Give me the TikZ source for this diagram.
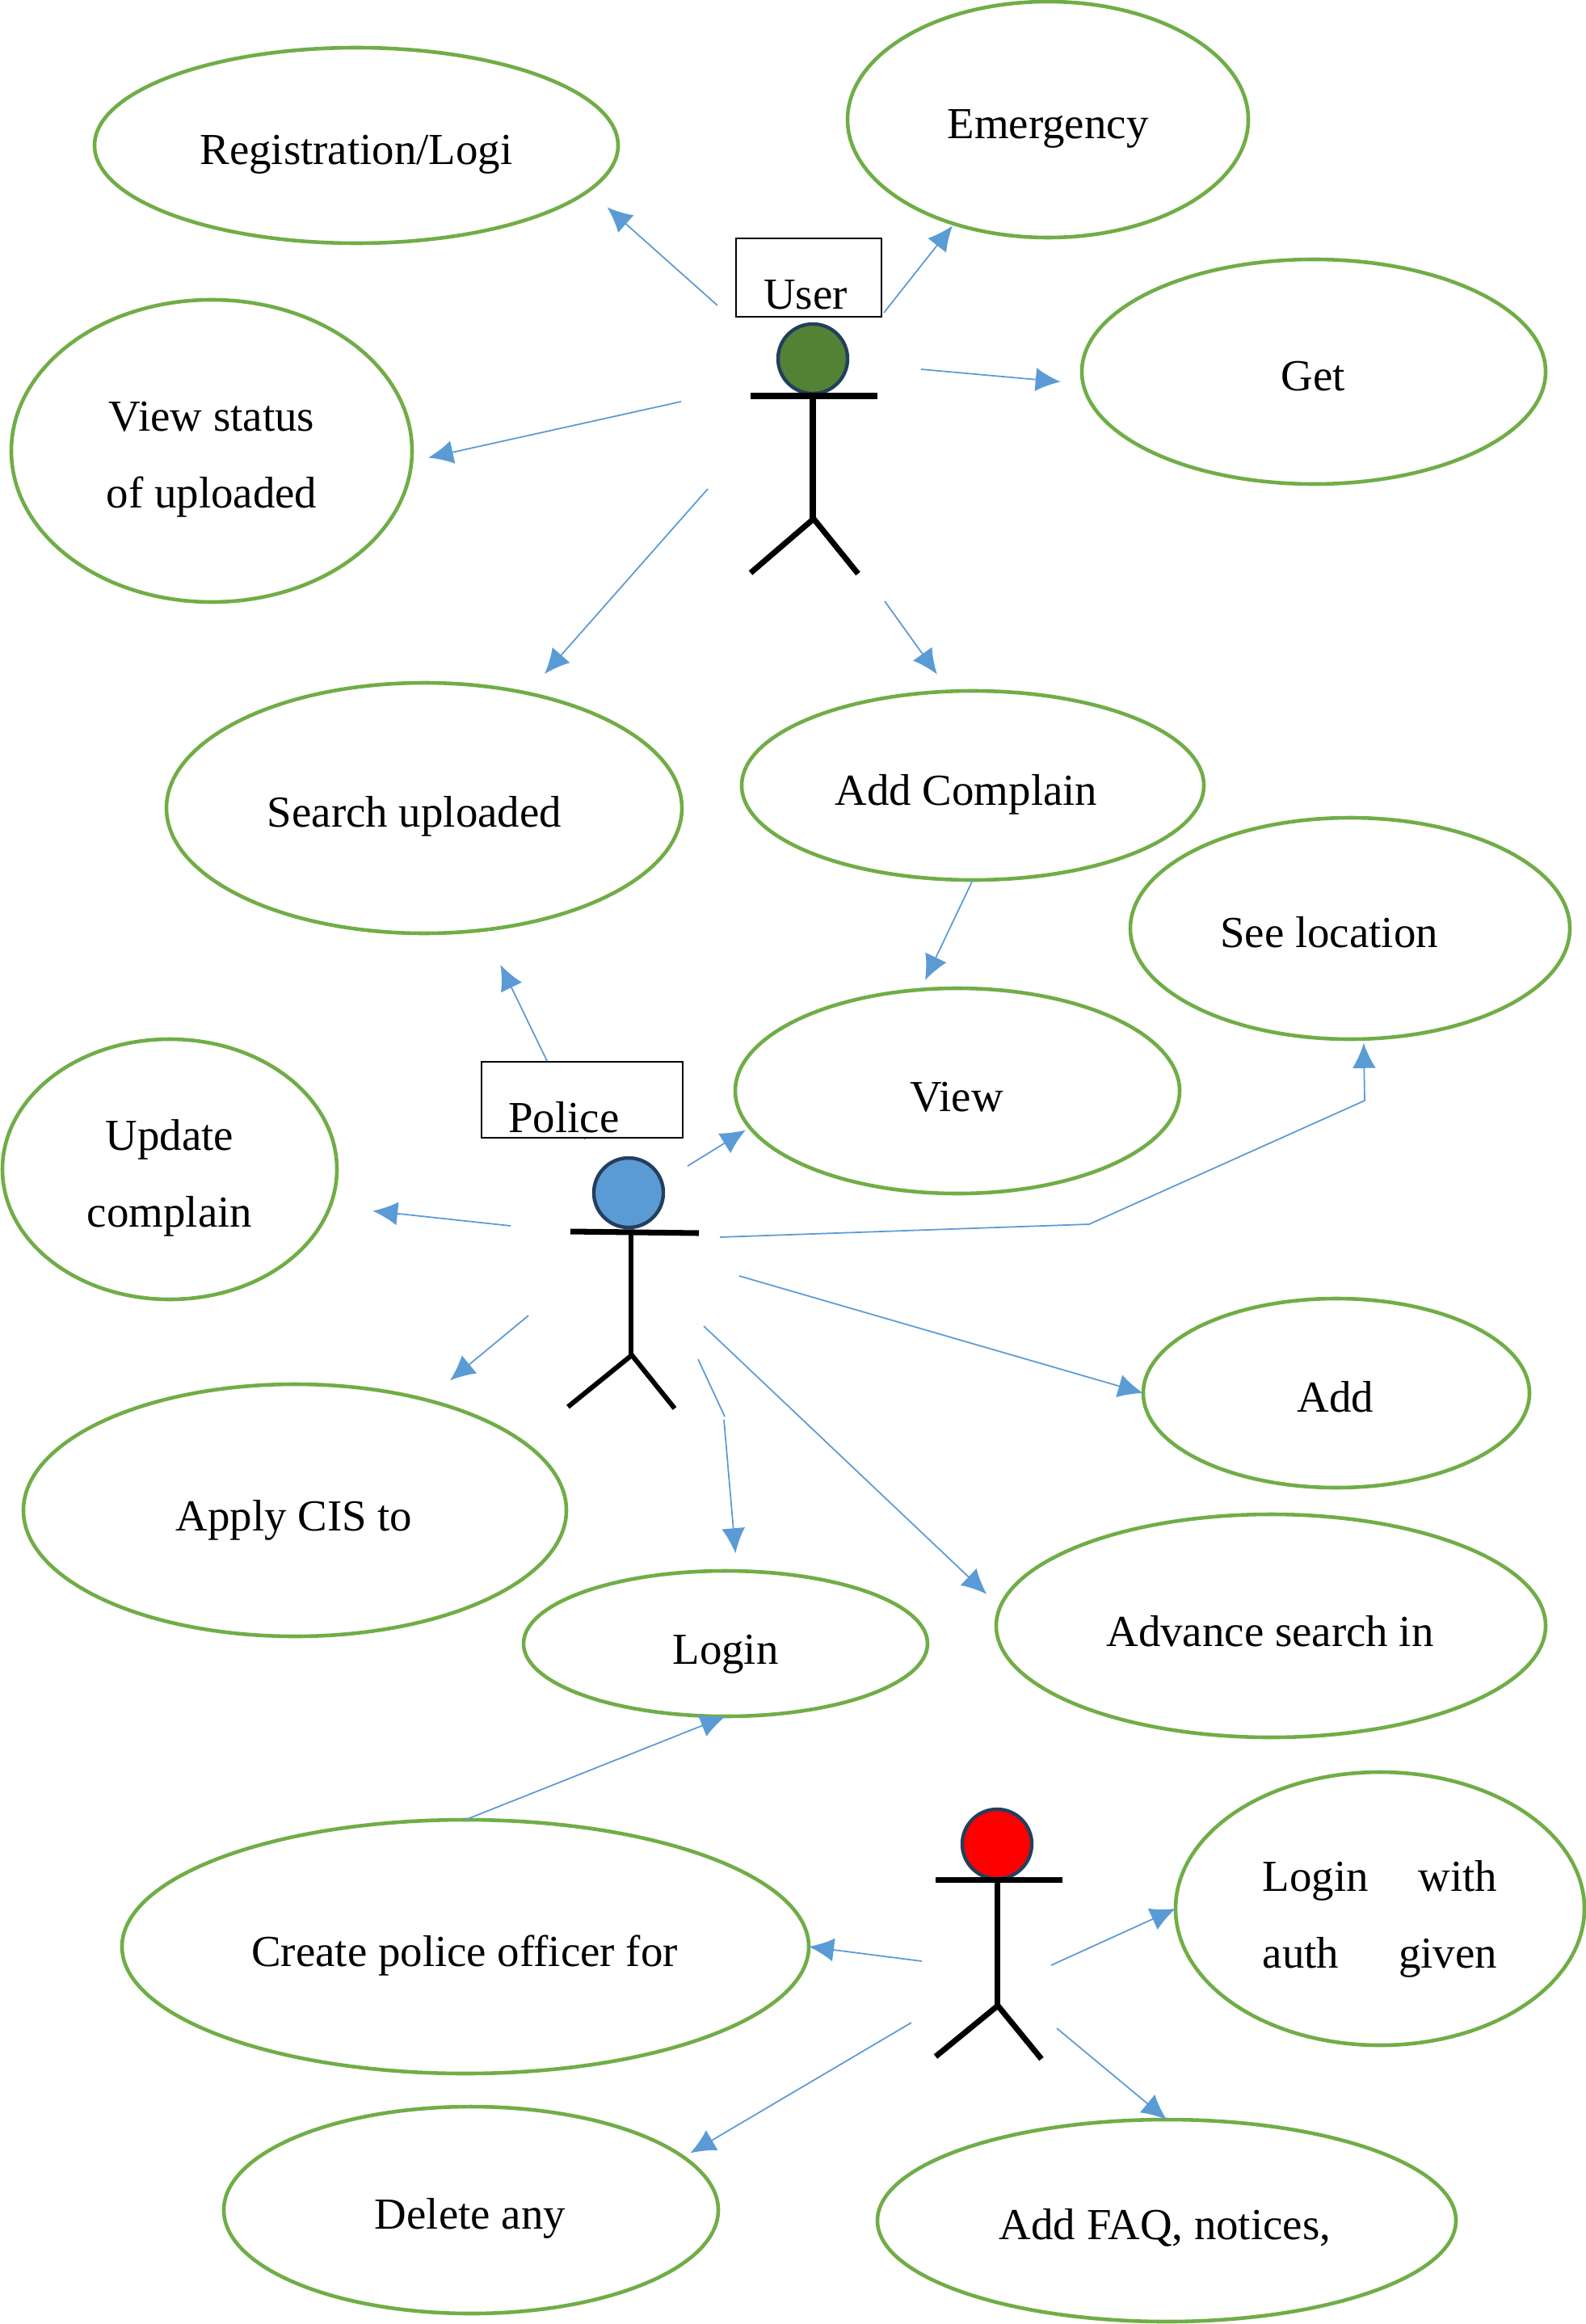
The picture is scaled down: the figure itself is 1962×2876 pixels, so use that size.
\documentclass[tikz,border=0pt]{standalone}
\usepackage{xcolor}
\usepackage{fontspec}
\setmainfont{Liberation Serif}
\usepackage{tikz}
\usetikzlibrary{shapes.geometric, arrows.meta}
\usetikzlibrary{calc,positioning}

\definecolor{caseGreen}{HTML}{70AD47}
\definecolor{flowBlue}{HTML}{5B9BD5}
\definecolor{headEdge}{HTML}{233F5E}
\definecolor{userGreen}{HTML}{548235}

\tikzset{
    usecase/.style 2 args={ellipse, draw=caseGreen, line width=1.3pt, inner sep=0pt, outer sep=0pt,
        minimum width=#1*0.01cm, minimum height=#2*0.01cm},
    caption/.style={font=\fontsize{15.6}{27}\selectfont, anchor=base, inner sep=0pt, align=center},
    flow/.style={draw=flowBlue, line width=0.5pt, -{Latex[length=0.31cm,width=0.29cm]}},
    plainflow/.style={draw=flowBlue, line width=0.5pt},
    gap/.style={shorten >=#1*0.01cm},
    namebox/.style={rectangle, draw=black, fill=white, line width=0.8pt, inner sep=0pt},
    actorhead/.style={circle, draw=headEdge, line width=1.25pt, inner sep=0pt, minimum size=0.86cm},
    stick/.style={draw=black, line width=2pt},
}

\begin{document}
\begin{tikzpicture}[x=0.01cm,y=-0.01cm]

    \useasboundingbox (0,0) rectangle (1962,2876);

    % Use cases
    \node[usecase={648}{242}] (reg) at (441,180) {};
    \node[usecase={496}{292}] (emergency) at (1297,148) {};
    \node[usecase={574}{278}] (get) at (1626,460) {};
    \node[usecase={496}{374}] (status) at (262,558) {};
    \node[usecase={638}{310}] (search) at (525,1000) {};
    \node[usecase={572}{234}] (complain) at (1204,972) {};
    \node[usecase={544}{274}] (location) at (1671,1149) {};
    \node[usecase={550}{254}] (view) at (1185,1350) {};
    \node[usecase={414}{322}] (update) at (210,1447) {};
    \node[usecase={478}{234}] (add) at (1654,1724) {};
    \node[usecase={672}{312}] (apply) at (365,1869) {};
    \node[usecase={500}{180}] (login) at (898,2034) {};
    \node[usecase={680}{276}] (advance) at (1573,2012) {};
    \node[usecase={850}{314}] (create) at (576,2409) {};
    \node[usecase={506}{338}] (auth) at (1708,2362) {};
    \node[usecase={612}{256}] (delete) at (583,2735) {};
    \node[usecase={716}{250}] (faq) at (1444,2748) {};

    % Texts
    \node[caption] (regText) at (441,204) {Registration/Logi};
    \node[caption] (emergencyText) at (1297,172) {Emergency};
    \node[caption] (getText) at (1625,484) {Get};
    \node[caption, anchor=center] (statusText) at (262,569) {View status\\of uploaded};
    \node[caption] (searchText) at (513,1023) {Search uploaded};
    \node[caption] (complainText) at (1196,996) {Add Complain};
    \node[caption] (locationText) at (1645,1172) {See location};
    \node[caption] (viewText) at (1184,1375) {View};
    \node[caption, anchor=center] (updateText) at (210,1458) {Update\\complain};
    \node[caption] (addText) at (1653,1747) {Add};
    \node[caption] (applyText) at (364,1894) {Apply CIS to};
    \node[caption] (loginText) at (898,2059) {Login};
    \node[caption] (advanceText) at (1572,2037) {Advance search in};
    \node[caption] (createText) at (575,2433) {Create police officer for};
    \node[caption, anchor=center] (authText) at (1708,2375) {\makebox[2.90cm][s]{Login\hfill with}\\\makebox[2.90cm][s]{auth\hfill given}};
    \node[caption] (deleteText) at (582,2758) {Delete any};
    \node[caption] (faqText) at (1442,2771) {Add FAQ, notices,};

    % Free ends near the actors
    \coordinate (userReg) at (888,378);
    \coordinate (userEmergency) at (1094,387);
    \coordinate (userGet) at (1140,457);
    \coordinate (userStatus) at (843,497);
    \coordinate (userSearch) at (876,605);
    \coordinate (userComplain) at (1095,744);
    \coordinate (policeSearch) at (724,1410);
    \coordinate (policeView) at (851,1443);
    \coordinate (policeLocation) at (891,1531);
    \coordinate (bendA) at (1348,1515);
    \coordinate (bendB) at (1689,1362);
    \coordinate (policeUpdate) at (632,1517);
    \coordinate (policeApply) at (654,1628);
    \coordinate (policeAdd) at (915,1579);
    \coordinate (policeAdvance) at (871,1641);
    \coordinate (policeLogin) at (864,1682);
    \coordinate (breakA) at (897,1753);
    \coordinate (breakB) at (896,1757);
    \coordinate (adminCreate) at (1141,2427);
    \coordinate (adminAuth) at (1301,2432);
    \coordinate (adminDelete) at (1128,2503);
    \coordinate (adminFaq) at (1308,2510);

    % Connectors
    \draw[flow, gap=31] (userReg) -- (reg.-11.3);
    \draw[flow, gap=3] (userEmergency) -- (emergency.228.7);
    \draw[flow, gap=28] (userGet) -- (get.183.5);
    \draw[flow, gap=21] (userStatus) -- (status.-3.5);
    \draw[flow, gap=32] (userSearch) -- (search.48);
    \draw[flow, gap=26] (userComplain) -- (complain.104);
    \draw[flow, gap=13] (complain.south) -- (view.110);
    \draw[flow, gap=48] (policeSearch) -- (search.-64.2);
    \draw[flow, gap=6] (policeView) -- (view.190.2);
    \draw[flow, gap=5] (policeLocation) -- (bendA) -- (bendB) -- (location.-83.7);
    \draw[flow, gap=53] (policeUpdate) -- (update.-13.6);
    \draw[flow, gap=38] (policeApply) -- (apply.40.4);
    \draw[flow] (policeAdd) -- (add.west);
    \draw[flow, gap=23] (policeAdvance) -- (advance.176.6);
    \draw[plainflow] (policeLogin) -- (breakA);
    \draw[flow, gap=22] (breakB) -- (login.81.8);
    \draw[flow] (create.north) -- (login.south);
    \draw[flow] (adminCreate) -- (create.east);
    \draw[flow] (adminAuth) -- (auth.west);
    \draw[flow, gap=10] (adminDelete) -- (delete.14.4);
    \draw[flow] (adminFaq) -- (faq.north);

    % User
    \node[namebox, minimum width=1.80cm, minimum height=0.97cm] (userBox) at (1001,343.5) {};
    \node[caption] (userText) at (997,383) {User};
    \node[actorhead, fill=userGreen] (userHead) at (1006,444) {};
    \draw[stick] (929,490) -- (1086,490);
    \draw[stick] (1006,490) -- (1006,642);
    \draw[stick] (929,709) -- (1007,642) -- (1062,710);

    % Police
    \node[namebox, minimum width=2.49cm, minimum height=0.94cm] (policeBox) at (720.5,1361) {};
    \node[caption] (policeText) at (698,1401) {Police};
    \node[actorhead, fill=flowBlue] (policeHead) at (778,1476) {};
    \draw[stick] (706,1524) -- (865,1526);
    \draw[stick, line width=1.7pt] (781,1525) -- (781,1677);
    \draw[stick, line width=1.7pt] (703,1741) -- (782,1677) -- (835,1743);

    % Admin
    \node[actorhead, fill=red] (adminHead) at (1234,2282) {};
    \draw[stick] (1158,2326) -- (1315,2326);
    \draw[stick] (1234,2326) -- (1234,2482);
    \draw[stick] (1158,2545) -- (1235,2482) -- (1289,2548);

\end{tikzpicture}
\end{document}
